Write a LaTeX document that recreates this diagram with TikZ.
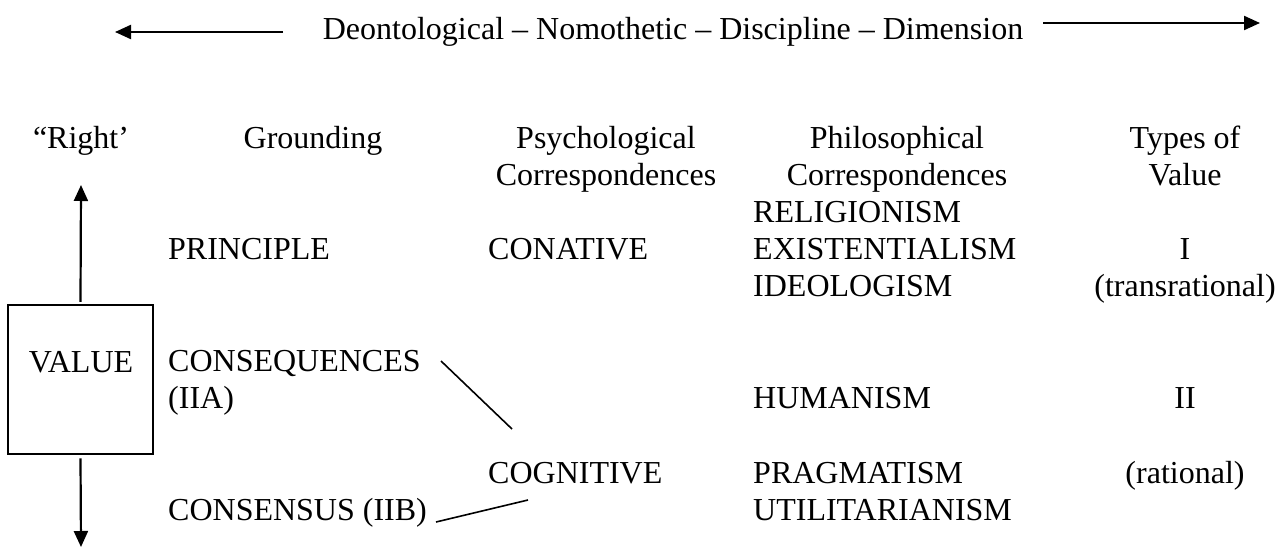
\documentclass[tikz,border=0pt]{standalone}
\usepackage{fontspec}
\setmainfont{Liberation Serif}
\usetikzlibrary{arrows.meta, positioning}

\begin{document}
\begin{tikzpicture}[x=1pt, y=-1pt,
  txt/.style={inner sep=0pt, font=\fontsize{32}{36.7}\selectfont},
  colhead/.style={txt, anchor=base, align=center},
  entry/.style={txt, anchor=base west, align=left},
  valuebox/.style={rectangle, draw, line width=2.5pt, minimum width=145pt, minimum height=149pt},
  arrow/.style={-{Triangle[length=16pt, width=14pt]}, line width=2.2pt},
  link/.style={line width=1.6pt}
]
  \useasboundingbox (0,0) rectangle (1284,557);

  % dimension across the top
  \node[txt, anchor=base] (dim) at (673,39) {Deontological – Nomothetic – Discipline – Dimension};
  \coordinate (dimwest) at (115,32);
  \coordinate (dimwesttail) at (283,32);
  \coordinate (dimeast) at (1260,23);
  \coordinate (dimeasttail) at (1043,23);
  \draw[arrow] (dimwesttail) -- (dimwest);
  \draw[arrow] (dimeasttail) -- (dimeast);

  % column heads (multi-line nodes sit on their last baseline)
  \node[colhead] (right) at (81,148) {“Right’};
  \node[colhead] (ground) at (313,148) {Grounding};
  \node[colhead] (psych) at (606,185) {Psychological\\Correspondences};
  \node[colhead] (philo) at (897,185) {Philosophical\\Correspondences};
  \node[colhead] (types) at (1185,185) {Types of\\Value};

  % value box with its two arrows
  \node[valuebox] (box) at (80.5,379.5) {};
  \node[txt, anchor=base] (value) at (81,372) {VALUE};
  \coordinate (rightup) at (81,185);
  \coordinate (rightdown) at (81,547);
  \draw[arrow] ([yshift=2pt]box.north) -- (rightup);
  \draw[arrow] ([yshift=-3pt]box.south) -- (rightdown);

  % grounding
  \node[entry] (principle) at (168,259) {PRINCIPLE};
  \node[entry] (conseq) at (168,408) {CONSEQUENCES\\(IIA)};
  \node[entry] (consensus) at (168,520) {CONSENSUS (IIB)};

  % psychological
  \node[entry] (conative) at (488,259) {CONATIVE};
  \node[entry] (cognitive) at (488,483) {COGNITIVE};

  % philosophical
  \node[entry] (religion) at (753,296) {RELIGIONISM\\EXISTENTIALISM\\IDEOLOGISM};
  \node[entry] (humanism) at (753,408) {HUMANISM};
  \node[entry] (pragma) at (753,520) {PRAGMATISM\\UTILITARIANISM};

  % types of value
  \node[colhead] (typeone) at (1185,296) {I\\(transrational)};
  \node[colhead] (typetwo) at (1185,408) {II};
  \node[colhead] (rational) at (1185,483) {(rational)};

  % links to cognitive
  \coordinate (conseqend) at (441,361);
  \coordinate (cogtop) at (512,429);
  \coordinate (consensusend) at (436,522);
  \coordinate (cogfoot) at (528,500);
  \draw[link] (conseqend) -- (cogtop);
  \draw[link] (consensusend) -- (cogfoot);
\end{tikzpicture}
\end{document}
